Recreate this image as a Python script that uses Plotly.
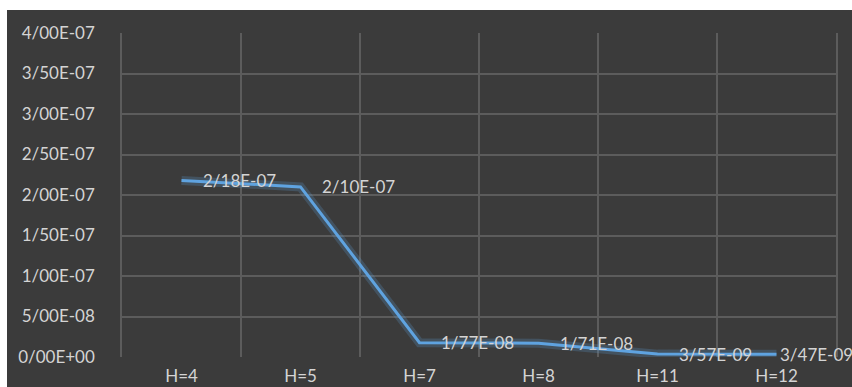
import plotly.graph_objects as go

# Error value for each horizon H
categories = ["H=4", "H=5", "H=7", "H=8", "H=11", "H=12"]
values = [2.18e-07, 2.10e-07, 1.77e-08, 1.71e-08, 3.57e-09, 3.47e-09]
value_labels = ["2/18E-07", "2/10E-07", "1/77E-08", "1/71E-08", "3/57E-09", "3/47E-09"]

y_tickvals = [0, 5e-08, 1e-07, 1.5e-07, 2e-07, 2.5e-07, 3e-07, 3.5e-07, 4e-07]
y_ticktext = ["0/00E+00", "5/00E-08", "1/00E-07", "1/50E-07", "2/00E-07",
              "2/50E-07", "3/00E-07", "3/50E-07", "4/00E-07"]

BG = "#3b3b3b"
GRID = "#5c5c5c"
TEXT = "#d4d4d4"
LINE = "#5fa3e0"
FONT = "Lato"
FS = 17

W, H = 852, 387
ML, MR, MT, MB = 122, 16, 33, 30
PW, PH = W - ML - MR, H - MT - MB

fig = go.Figure()

# soft glow under the line
fig.add_trace(go.Scatter(
    x=categories, y=values, mode="lines",
    line=dict(color="rgba(95,163,224,0.22)", width=9),
    hoverinfo="skip", showlegend=False,
))
fig.add_trace(go.Scatter(
    x=categories, y=values, mode="lines",
    line=dict(color=LINE, width=3),
    showlegend=False,
))

# value labels to the right of each point (the last one sits tight to its point)
for i, (cat, val, lab) in enumerate(zip(categories, values, value_labels)):
    fig.add_annotation(
        x=cat, y=val, text=lab, showarrow=False,
        xanchor="left", yanchor="middle",
        xshift=1 if i == len(categories) - 1 else 19, yshift=0,
        font=dict(family=FONT, size=FS, color=TEXT),
    )

# dark chart area with a thin white strip at the top and left
fig.add_shape(
    type="rect", xref="paper", yref="paper", layer="below",
    x0=(7 - ML) / PW, x1=(W - ML) / PW,
    y0=-MB / PH, y1=(H - MB - 10) / PH,
    fillcolor=BG, line=dict(width=0),
)

fig.update_layout(
    width=W, height=H,
    margin=dict(l=ML, r=MR, t=MT, b=MB),
    paper_bgcolor="white",
    plot_bgcolor=BG,
    font=dict(family=FONT, size=FS, color=TEXT),
    xaxis=dict(
        type="category",
        tickson="boundaries",
        range=[-0.5, len(categories) - 0.5],
        showgrid=True, gridcolor=GRID, gridwidth=1.5,
        ticks="", ticklen=0, ticklabelstandoff=7,
        showline=False, zeroline=False, automargin=False,
        tickfont=dict(family=FONT, size=FS, color=TEXT),
    ),
    yaxis=dict(
        range=[0, 4e-07],
        tickvals=y_tickvals, ticktext=y_ticktext,
        showgrid=True, gridcolor=GRID, gridwidth=1.5,
        zeroline=False, automargin=False,
        showline=True, mirror=True, linecolor=GRID, linewidth=1.5,
        ticks="", ticklabelstandoff=22,
        tickfont=dict(family=FONT, size=FS, color=TEXT),
    ),
)

fig.write_html("out.html")
